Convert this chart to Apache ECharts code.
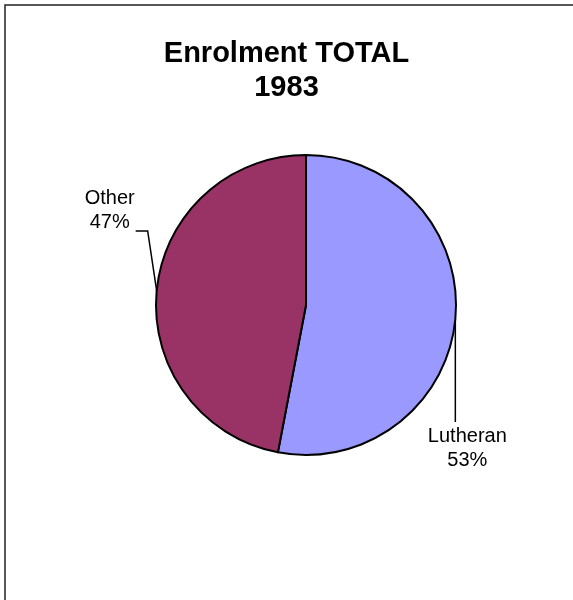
<!DOCTYPE html>
<html>
<head>
<meta charset="utf-8">
<script src="https://cdn.jsdelivr.net/npm/echarts@6/dist/echarts.min.js"></script>
<style>
  html, body { margin: 0; padding: 0; background: #fff; }
  #chart { width: 573px; height: 600px; }
</style>
</head>
<body>
<div id="chart"></div>
<script>
// données du graphique
const categories = ['Lutheran', 'Other'];
const values = [53, 47];
const colors = ['#9999FF', '#993366'];

const CX = 306, CY = 305, R = 150; // centre et rayon du camembert

const chart = echarts.init(document.getElementById('chart'), null, { renderer: 'canvas' });

const option = {
    animation: false,
    backgroundColor: '#fff',
    title: {
        text: 'Enrolment TOTAL\n1983',
        left: 'center',
        top: 32,
        textStyle: {
            fontFamily: 'Liberation Sans, Arial, sans-serif',
            fontSize: 29,
            fontWeight: 'bold',
            lineHeight: 34,
            color: '#000'
        }
    },
    graphic: [{
        type: 'rect',
        shape: { x: 5, y: 5, width: 620, height: 650 },
        style: { fill: 'none', stroke: '#222', lineWidth: 1.5 },
        z: -1
    }],
    series: [{
        type: 'pie',
        center: [CX, CY],
        radius: R,
        startAngle: 90,
        clockwise: true,
        silent: true,
        data: categories.map((name, i) => ({
            name: name,
            value: values[i],
            itemStyle: { color: colors[i] }
        })),
        itemStyle: { borderColor: '#000', borderWidth: 2 },
        label: {
            show: true,
            formatter: '{b}\n{d}%',
            fontFamily: 'Liberation Sans, Arial, sans-serif',
            fontSize: 20,
            lineHeight: 24,
            color: '#000',
            align: 'center',
            overflow: 'none',
            width: 120
        },
        labelLine: {
            show: true,
            lineStyle: { color: '#000', width: 1.5 }
        },
        labelLayout: function (p) {
            const a = p.labelLinePoints ? p.labelLinePoints[0] : [CX, CY];
            if (p.dataIndex === 0) {
                // ligne verticale vers le bas, étiquette dessous
                const end = [a[0], CY + R * 0.78];
                return {
                    x: a[0] + 12,
                    y: end[1] + 2,
                    align: 'center',
                    verticalAlign: 'top',
                    labelLinePoints: [a, end, end]
                };
            }
            // ligne vers le haut puis horizontale vers la gauche
            const mid = [a[0] - 9, a[1] - 60];
            const end = [mid[0] - 12, mid[1]];
            return {
                x: end[0] - 26,
                y: mid[1] - 20,
                align: 'center',
                verticalAlign: 'middle',
                labelLinePoints: [a, mid, end]
            };
        }
    }]
};

chart.setOption(option);
</script>
</body>
</html>
